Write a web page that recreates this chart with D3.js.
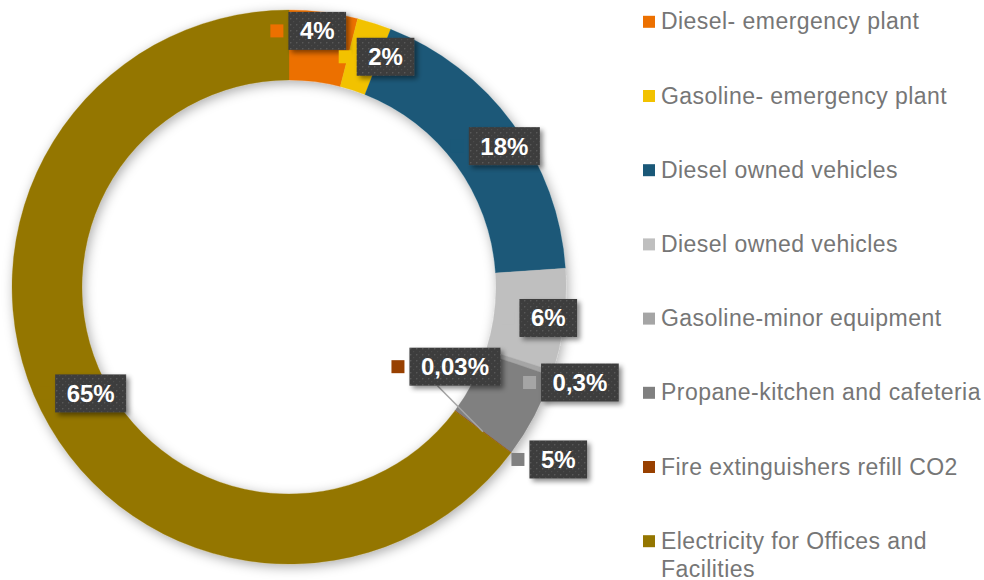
<!DOCTYPE html>
<html>
<head>
<meta charset="utf-8">
<script src="https://cdn.jsdelivr.net/npm/d3@7"></script>
<style>
  html, body { margin: 0; padding: 0; background: #ffffff; }
  svg { display: block; font-family: "Liberation Sans", Arial, sans-serif; }
</style>
</head>
<body>
<svg id="chart" width="984" height="580"></svg>
<script>
// ---- data ----
const categories = [
  "Diesel- emergency plant",
  "Gasoline- emergency plant",
  "Diesel owned vehicles",
  "Diesel owned vehicles",
  "Gasoline-minor equipment",
  "Propane-kitchen and cafeteria",
  "Fire extinguishers refill CO2",
  "Electricity for Offices and Facilities"
];
const values = [4, 2, 18, 6, 0.3, 5, 0.03, 65];
const valueLabels = ["4%", "2%", "18%", "6%", "0,3%", "5%", "0,03%", "65%"];
const colors = ["#EC7000", "#F2C200", "#1A5878", "#BFBFBF", "#A5A5A5", "#808080", "#984000", "#947600"];

// ---- layout ----
const W = 984, H = 580;
const cx = 289, cy = 287, outerR = 277, innerR = 207;
const labelNudge = [[-2,-16],[22,0],[20,2],[19,2],[61,20],[55,60],[-28,-65],[18,-2]];
const showLeader = [false, false, false, false, false, false, true, false];

const svg = d3.select("#chart");
const defs = svg.append("defs");

const ringShadow = defs.append("filter").attr("id", "ringShadow")
  .attr("x", "-20%").attr("y", "-20%").attr("width", "140%").attr("height", "140%");
ringShadow.append("feDropShadow").attr("dx", 2).attr("dy", 3)
  .attr("stdDeviation", 6).attr("flood-color", "#000").attr("flood-opacity", 0.33);

const boxShadow = defs.append("filter").attr("id", "boxShadow")
  .attr("x", "-30%").attr("y", "-30%").attr("width", "160%").attr("height", "160%");
boxShadow.append("feDropShadow").attr("dx", 3).attr("dy", 3)
  .attr("stdDeviation", 2.5).attr("flood-color", "#000").attr("flood-opacity", 0.45);

const pat = defs.append("pattern").attr("id", "dots")
  .attr("patternUnits", "userSpaceOnUse").attr("width", 6).attr("height", 6);
pat.append("rect").attr("width", 6).attr("height", 6).attr("fill", "#3d3d3d");
pat.append("rect").attr("x", 1).attr("y", 1).attr("width", 1.4).attr("height", 1.4).attr("fill", "#585858");
pat.append("rect").attr("x", 4).attr("y", 4).attr("width", 1.2).attr("height", 1.2).attr("fill", "#4c4c4c");

// ---- donut ----
const pie = d3.pie().sort(null).value(d => d);
const arcs = pie(values);
const arc = d3.arc().innerRadius(innerR).outerRadius(outerR);

const g = svg.append("g").attr("transform", `translate(${cx},${cy})`);
g.append("g").attr("filter", "url(#ringShadow)")
  .selectAll("path").data(arcs).join("path")
  .attr("d", arc)
  .attr("fill", (d, i) => colors[i])
  .attr("stroke", (d, i) => colors[i])
  .attr("stroke-width", 0.3);

// ---- data labels ----
const labG = g.append("g");
arcs.forEach((d, i) => {
  const c = arc.centroid(d);
  const lx = c[0] + labelNudge[i][0];
  const ly = c[1] + labelNudge[i][1];
  const grp = labG.append("g");
  const txt = grp.append("text")
    .attr("x", lx).attr("y", ly)
    .attr("text-anchor", "middle")
    .attr("dominant-baseline", "central")
    .attr("font-size", 24).attr("font-weight", "bold")
    .attr("fill", "#ffffff")
    .text(valueLabels[i]);
  const tw = txt.node().getComputedTextLength();
  const bw = tw + 23, bh = 38;
  const bx = lx - bw / 2, by = ly - bh / 2;
  if (showLeader[i]) {
    grp.insert("line", "text")
      .attr("x1", bx + 28).attr("y1", by + bh)
      .attr("x2", c[0]).attr("y2", c[1])
      .attr("stroke", "#a6a6a6").attr("stroke-width", 1.5);
  }
  grp.insert("rect", "text")
    .attr("x", bx).attr("y", by).attr("width", bw).attr("height", bh)
    .attr("fill", "url(#dots)").attr("filter", "url(#boxShadow)");
  grp.insert("rect", "text")
    .attr("x", bx - 18).attr("y", ly - 6.5).attr("width", 13).attr("height", 13)
    .attr("fill", colors[i]);
});

// ---- legend ----
const legX = 643, legTextX = 661;
const legY = d3.scaleLinear().domain([0, categories.length - 1]).range([29.3, 548.7]);
const leg = svg.append("g");
categories.forEach((name, i) => {
  const y = legY(i);
  leg.append("rect").attr("x", legX).attr("y", y - 13.5).attr("width", 12).attr("height", 12)
    .attr("fill", colors[i]);
  const t = leg.append("text").attr("x", legTextX).attr("y", y)
    .attr("font-size", 23).attr("letter-spacing", 0.45).attr("fill", "#767676");
  const words = name.split(" ");
  let line = [], tspan = t.append("tspan").attr("x", legTextX).attr("y", y);
  let lineNo = 0;
  words.forEach(w => {
    line.push(w);
    tspan.text(line.join(" "));
    if (tspan.node().getComputedTextLength() > 322 && line.length > 1) {
      line.pop();
      tspan.text(line.join(" "));
      line = [w];
      lineNo++;
      tspan = t.append("tspan").attr("x", legTextX).attr("y", y + lineNo * 28.5).text(w);
    }
  });
});
</script>
</body>
</html>
